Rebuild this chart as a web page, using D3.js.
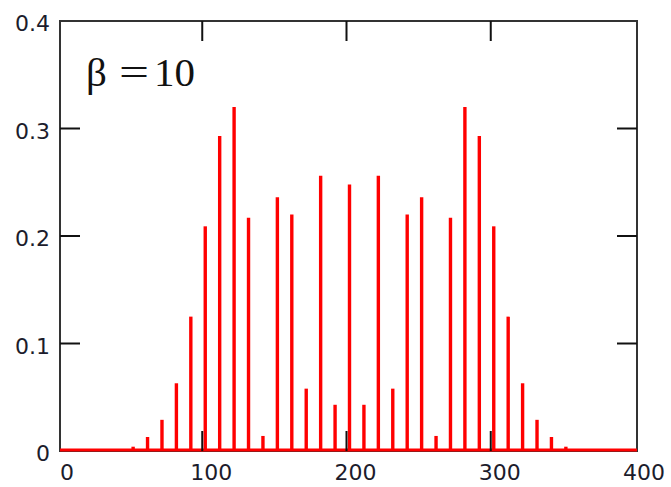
<!DOCTYPE html>
<html>
<head>
<meta charset="utf-8">
<script src="https://cdn.jsdelivr.net/npm/d3@7"></script>
<style>
  body { margin: 0; background: #fff; }
  text { font-family: "DejaVu Sans", sans-serif; fill: #1c1c2c; }
  .beta { font-family: "Liberation Serif", "Times New Roman", serif; fill: #111; }
</style>
</head>
<body>
<svg id="chart" width="671" height="487"></svg>
<script>
// Spectral line positions (frequency) and amplitudes
const freqs = [50, 60, 70, 80, 90, 100, 110, 120, 130, 140, 150, 160, 170, 180, 190,
  200, 210, 220, 230, 240, 250, 260, 270, 280, 290, 300, 310, 320, 330, 340, 350];
const amps = [0.004, 0.013, 0.029, 0.063, 0.125, 0.209, 0.293, 0.32, 0.217, 0.014, 0.236, 0.22, 0.058, 0.256, 0.043,
  0.248, 0.043, 0.256, 0.058, 0.22, 0.236, 0.014, 0.217, 0.32, 0.293, 0.209, 0.125, 0.063, 0.029, 0.013, 0.004];
const xTicks = [0, 100, 200, 300, 400];
const yTicks = [0, 0.1, 0.2, 0.3, 0.4];

const svg = d3.select("#chart");
const m_left = 60, m_right = 637, m_top = 21, m_bottom = 451;

const x = d3.scaleLinear().domain([0, 400]).range([m_left, m_right]);
const y = d3.scaleLinear().domain([0, 0.4]).range([m_bottom, m_top]);

const tickLen = 20;

// Bars
svg.append("g")
  .selectAll("line")
  .data(freqs)
  .enter()
  .append("line")
  .attr("x1", (d) => x(d) + 1)
  .attr("x2", (d) => x(d) + 1)
  .attr("y1", y(0))
  .attr("y2", (d, i) => y(amps[i]))
  .style("stroke", "red")
  .style("stroke-width", 3.4);

// Frame
svg.append("rect")
  .attr("x", m_left)
  .attr("y", m_top)
  .attr("width", m_right - m_left)
  .attr("height", m_bottom - m_top)
  .style("fill", "none")
  .style("stroke", "#333")
  .style("stroke-width", 2);

// Red baseline along zero
svg.append("line")
  .attr("x1", x(0))
  .attr("x2", x(400))
  .attr("y1", y(0) - 1)
  .attr("y2", y(0) - 1)
  .style("stroke", "red")
  .style("stroke-width", 3);

// Inner ticks, x (top and bottom)
const tk = svg.append("g").style("stroke", "#111").style("stroke-width", 2);
xTicks.slice(1, -1).forEach(function (t) {
  tk.append("line").attr("x1", x(t) - 2).attr("x2", x(t) - 2).attr("y1", m_bottom).attr("y2", m_bottom - tickLen);
  tk.append("line").attr("x1", x(t) - 2).attr("x2", x(t) - 2).attr("y1", m_top).attr("y2", m_top + tickLen);
});
// Inner ticks, y (left and right)
yTicks.slice(1, -1).forEach(function (t) {
  tk.append("line").attr("x1", m_left).attr("x2", m_left + tickLen).attr("y1", y(t)).attr("y2", y(t));
  tk.append("line").attr("x1", m_right - tickLen).attr("x2", m_right).attr("y1", y(t)).attr("y2", y(t));
});

// Tick labels
svg.append("g")
  .selectAll("text")
  .data(xTicks)
  .enter()
  .append("text")
  .attr("x", (d) => x(d) + 7)
  .attr("y", 480)
  .attr("text-anchor", "middle")
  .style("font-size", "22px")
  .text((d) => d);

svg.append("g")
  .selectAll("text")
  .data(yTicks)
  .enter()
  .append("text")
  .attr("x", 50)
  .attr("y", (d) => y(d) + 10)
  .attr("text-anchor", "end")
  .style("font-size", "22px")
  .text((d) => d === 0 ? "0" : d.toFixed(1));

// Annotation
const note = svg.append("g").style("font-size", "41px");
note.append("text").attr("class", "beta").attr("x", 86).attr("y", 86).text("β");
note.append("text").attr("class", "beta")
  .attr("transform", "translate(119,86) scale(1.3,1)")
  .text("=");
note.append("text").attr("class", "beta").attr("x", 154).attr("y", 86).text("10");
</script>
</body>
</html>
